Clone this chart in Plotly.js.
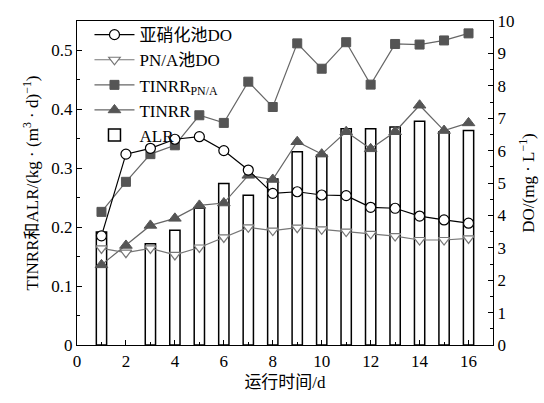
<!DOCTYPE html>
<html><head><meta charset="utf-8">
<script src="https://cdn.plot.ly/plotly-3.0.1.min.js"></script>
<style>body{margin:0}#c{width:544px;height:403px}</style>
</head><body><div id="c"></div>
<script>
const days = [1,2,3,4,5,6,7,8,9,10,11,12,13,14,15,16];
const alr = [0.192,null,0.172,0.195,0.232,0.274,0.254,0.282,0.328,0.322,0.367,0.367,0.370,0.380,0.362,0.364];
const tinrrPNA = [0.226,0.277,0.324,0.339,0.390,0.377,0.447,0.404,0.512,0.469,0.514,0.442,0.511,0.510,0.517,0.529];
const tinrr = [0.136,0.169,0.203,0.215,0.237,0.241,0.288,0.281,0.345,0.324,0.362,0.333,0.362,0.407,0.364,0.377];
const doNit = [3.37,5.89,6.07,6.35,6.43,6.00,5.40,4.68,4.73,4.63,4.61,4.25,4.22,3.98,3.86,3.76];
const doPNA = [2.98,2.85,2.98,2.78,3.01,3.32,3.63,3.53,3.62,3.57,3.50,3.43,3.36,3.24,3.24,3.29];
const names = ['亚硝化池DO','PN/A池DO','TINRR<sub>PN/A</sub>','TINRR','ALR'];

const F = "'Liberation Serif', 'Times New Roman', 'Noto Sans CJK SC', serif";
const traces = [
 {x:days,y:doNit,name:names[0],yaxis:'y2',type:'scatter',mode:'lines+markers',
  line:{color:'#000',width:1.2},marker:{symbol:'circle',size:10,color:'#fff',line:{color:'#000',width:1.2}}},
 {x:days,y:doPNA,name:names[1],yaxis:'y2',type:'scatter',mode:'lines+markers',
  line:{color:'#777',width:1.2},marker:{symbol:'triangle-down',size:10,color:'#fff',line:{color:'#777',width:1.2}}},
 {x:days,y:tinrrPNA,name:names[2],yaxis:'y',type:'scatter',mode:'lines+markers',
  line:{color:'#666',width:1.2},marker:{symbol:'square',size:9,color:'#555',line:{color:'#555',width:1}}},
 {x:days,y:tinrr,name:names[3],yaxis:'y',type:'scatter',mode:'lines+markers',
  line:{color:'#666',width:1.2},marker:{symbol:'triangle-up',size:11,color:'#555',line:{color:'#555',width:1}}},
 {x:days,y:alr,name:names[4],yaxis:'y',type:'bar',width:0.42,
  marker:{color:'#fff',line:{color:'#000',width:1.5}}}
];
const ax = {showline:true,linecolor:'#000',linewidth:1.2,showgrid:false,zeroline:false,
  ticks:'inside',ticklen:5,tickcolor:'#000',tickfont:{family:F,size:17,color:'#000'}};
const layout = {
  width:544,height:403,margin:{l:77,r:51,t:21,b:58},
  paper_bgcolor:'#fff',plot_bgcolor:'rgba(0,0,0,0)',
  font:{family:F,size:17,color:'#000'},
  showlegend:true,
  legend:{x:0.03,y:1.012,xanchor:'left',yanchor:'top',bgcolor:'rgba(0,0,0,0)',
    font:{family:F,size:17,color:'#000'},tracegroupgap:0,itemwidth:40},
  xaxis:Object.assign({},ax,{range:[0,17],dtick:2,tick0:0,mirror:true,
    minor:{ticks:'inside',ticklen:3,dtick:1,tickcolor:'#000'},
    title:{text:'运行时间/d',font:{family:F,size:17},standoff:6}}),
  yaxis:Object.assign({},ax,{range:[0,0.55],dtick:0.1,tick0:0,
    minor:{ticks:'inside',ticklen:3,dtick:0.05,tickcolor:'#000'},
    title:{text:'TINRR和ALR/(kg · (m<sup>3</sup> · d)<sup>−1</sup>)',font:{family:F,size:17},standoff:8}}),
  yaxis2:Object.assign({},ax,{range:[0,10],dtick:1,tick0:0,overlaying:'y',side:'right',
    minor:{ticks:'inside',ticklen:3,dtick:0.5,tickcolor:'#000'},
    title:{text:'DO/(mg · L<sup>−1</sup>)',font:{family:F,size:17},standoff:8}}),
  barmode:'overlay'
};
Plotly.newPlot('c',traces,layout,{displayModeBar:false,staticPlot:true});
</script></body></html>
